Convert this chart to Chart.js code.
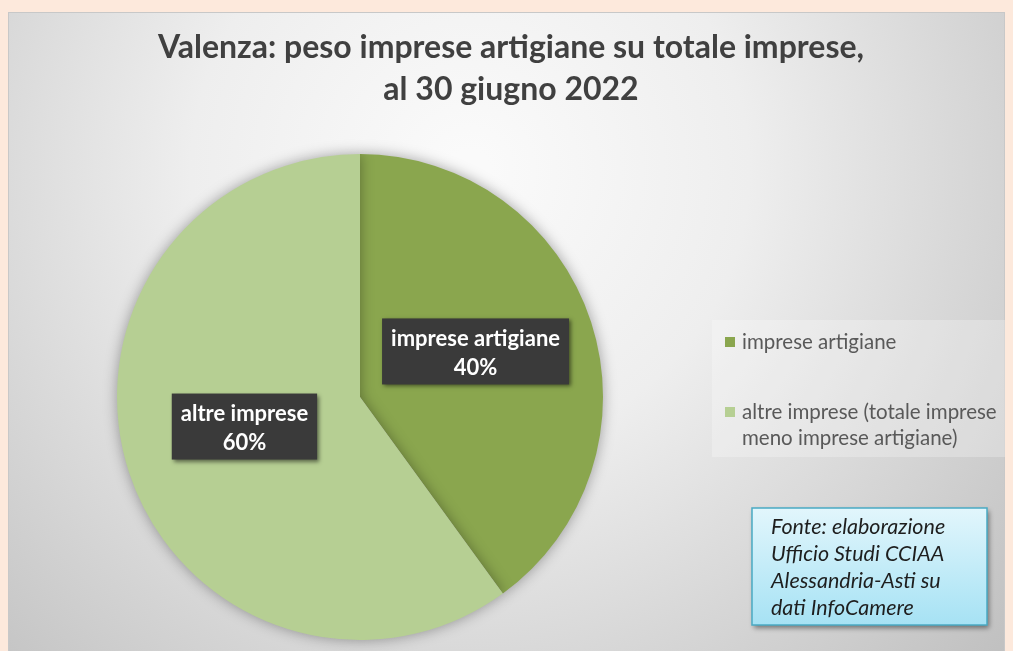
<!DOCTYPE html>
<html>
<head>
<meta charset="utf-8">
<script src="https://cdn.jsdelivr.net/npm/chart.js@4.4.0/dist/chart.umd.min.js"></script>
<style>
  html, body { margin: 0; padding: 0; background: #fde9dc; }
  #wrap { position: relative; width: 1013px; height: 651px; }
</style>
</head>
<body>
<div id="wrap"><canvas id="myChart" width="1013" height="651"></canvas></div>
<script>
// data
const categories = ['imprese artigiane', 'altre imprese (totale imprese meno imprese artigiane)'];
const labelText = ['imprese artigiane', 'altre imprese'];
const legendLines = [['imprese artigiane'], ['altre imprese (totale imprese', 'meno imprese artigiane)']];
const shares = [40, 60];
const sliceColors = ['#8aa64e', '#b6cf93'];
const titleLines = ['Valenza: peso imprese artigiane su totale imprese,', 'al 30 giugno 2022'];
const sourceLines = ['Fonte: elaborazione', 'Ufficio Studi CCIAA', 'Alessandria-Asti su', 'dati InfoCamere'];

const FONT = 'Lato, "Open Sans", sans-serif';

// background, title, legend and source note
const decorPlugin = {
  id: 'decor',
  beforeDraw(chart) {
    const ctx = chart.ctx;
    ctx.save();
    ctx.fillStyle = '#fde9dc';
    ctx.fillRect(0, 0, chart.width, chart.height);
    let g = ctx.createRadialGradient(470, 170, 20, 470, 170, 760);
    g.addColorStop(0, '#fafafa');
    g.addColorStop(0.35, '#eeeeee');
    g.addColorStop(1, '#bcbcbc');
    ctx.fillStyle = g;
    ctx.fillRect(8, 12, 997, 650);
    ctx.strokeStyle = '#c8c8c8';
    ctx.lineWidth = 1;
    ctx.strokeRect(8.5, 12.5, 996, 650);

    // title
    ctx.fillStyle = '#404040';
    ctx.font = 'bold 32px ' + FONT;
    ctx.textAlign = 'center';
    ctx.textBaseline = 'middle';
    ctx.fillText(titleLines[0], 511, 48);
    ctx.fillText(titleLines[1], 511, 90);

    // legend
    ctx.fillStyle = 'rgba(255,255,255,0.25)';
    ctx.fillRect(712, 320, 293, 137);
    ctx.font = '20.5px ' + FONT;
    ctx.textAlign = 'left';
    const rows = [342, 412];
    legendLines.forEach(function (lines, i) {
      ctx.fillStyle = sliceColors[i];
      ctx.fillRect(725, rows[i] - 5, 10, 10);
      ctx.fillStyle = '#595959';
      lines.forEach(function (t, j) {
        ctx.fillText(t, 742, rows[i] + j * 26);
      });
    });

    // source box
    ctx.shadowColor = 'rgba(0,0,0,0.45)';
    ctx.shadowBlur = 5;
    ctx.shadowOffsetX = 2;
    ctx.shadowOffsetY = 3;
    g = ctx.createLinearGradient(0, 508, 0, 625);
    g.addColorStop(0, '#e2f6fc');
    g.addColorStop(1, '#a6e2f4');
    ctx.fillStyle = g;
    ctx.fillRect(752, 508, 235, 117);
    ctx.shadowColor = 'transparent';
    ctx.strokeStyle = '#4aaac4';
    ctx.lineWidth = 1.5;
    ctx.strokeRect(752, 508, 235, 117);
    ctx.fillStyle = '#1e1e1e';
    ctx.font = 'italic 21.5px ' + FONT;
    sourceLines.forEach(function (t, i) {
      ctx.fillText(t, 771, 527 + i * 27);
    });
    ctx.restore();
  },
  beforeDatasetsDraw(chart) {
    const ctx = chart.ctx;
    ctx.save();
    ctx.shadowColor = 'rgba(0,0,0,0.35)';
    ctx.shadowBlur = 14;
  },
  afterDatasetsDraw(chart) {
    chart.ctx.restore();
    // data labels
    const ctx = chart.ctx;
    const meta = chart.getDatasetMeta(0);
    const total = shares.reduce((a, b) => a + b, 0);
    ctx.save();
    ctx.font = 'bold 22px ' + FONT;
    ctx.textAlign = 'center';
    ctx.textBaseline = 'middle';
    meta.data.forEach(function (arc, i) {
      const mid = (arc.startAngle + arc.endAngle) / 2;
      const r = arc.outerRadius * 0.5;
      const x = arc.x + Math.cos(mid) * r;
      const y = arc.y + Math.sin(mid) * r - 8;
      const pct = Math.round(shares[i] / total * 100) + '%';
      const w = ctx.measureText(labelText[i]).width + 18;
      const h = 66;
      ctx.shadowColor = 'rgba(0,0,0,0.5)';
      ctx.shadowBlur = 4;
      ctx.shadowOffsetX = 2;
      ctx.shadowOffsetY = 2;
      ctx.fillStyle = '#3a3a3a';
      ctx.fillRect(x - w / 2, y - h / 2, w, h);
      ctx.shadowColor = 'transparent';
      ctx.fillStyle = '#ffffff';
      ctx.fillText(labelText[i], x, y - 13);
      ctx.fillText(pct, x, y + 16);
    });
    ctx.restore();
  }
};

const chart = new Chart(document.getElementById('myChart'), {
  type: 'pie',
  data: {
    labels: categories,
    datasets: [{
      data: shares,
      backgroundColor: sliceColors,
      borderWidth: 0
    }]
  },
  options: {
    responsive: false,
    animation: false,
    layout: { padding: { left: 117, right: 410, top: 154, bottom: 11 } },
    plugins: {
      legend: { display: false },
      title: { display: false },
      tooltip: { enabled: false }
    }
  },
  plugins: [decorPlugin]
});
</script>
</body>
</html>
